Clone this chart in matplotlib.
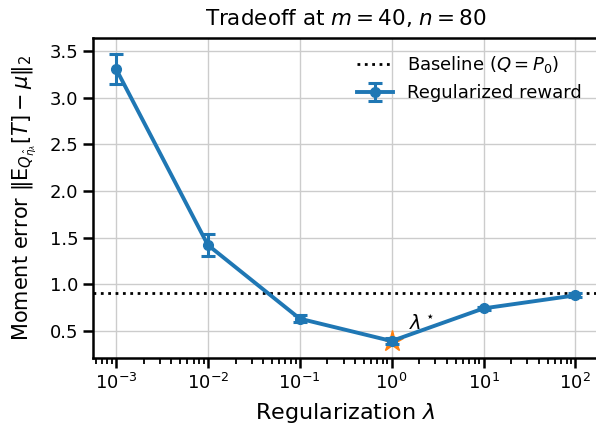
import numpy as np
import matplotlib
matplotlib.use("Agg")
import matplotlib.pyplot as plt

# values
lambdas = [1e-3, 1e-2, 1e-1, 1e0, 1e1, 1e2]
moment_err = [3.31, 1.42, 0.63, 0.39, 0.74, 0.88]
err_bars = [0.16, 0.12, 0.04, 0.03, 0.02, 0.02]
baseline = 0.90
best_lambda = 1e0
best_err = 0.39

plt.rcParams["font.family"] = "DejaVu Sans"
plt.rcParams["mathtext.fontset"] = "dejavusans"

fig = plt.figure(figsize=(5.96, 4.26), dpi=100)
ax = fig.add_axes([0.156, 0.160, 0.848, 0.751])

ax.axhline(baseline, color="black", linestyle=":", linewidth=2,
           label=r"Baseline ($Q = P_0$)", zorder=2)
ax.errorbar(lambdas, moment_err, yerr=err_bars, color="#1f77b4", marker="o",
            markersize=7, linewidth=2.8, capsize=5, capthick=2.2, elinewidth=2.2,
            label="Regularized reward", zorder=3)
ax.plot([best_lambda], [best_err], marker="*", color="#ff7f0e",
        markersize=16, linestyle="none", zorder=2.5)
ax.text(1.55, 0.52, r"$\lambda^\star$", fontsize=14)

ax.set_xscale("log")
ax.set_xlim(10 ** -3.25, 10 ** 2.25)
ax.set_ylim(0.21, 3.64)
ax.set_yticks([0.5, 1.0, 1.5, 2.0, 2.5, 3.0, 3.5])
ax.grid(True, which="major", color="#cccccc", linewidth=1)
ax.set_axisbelow(True)

for s in ax.spines.values():
    s.set_linewidth(1.8)
    s.set_color("black")
ax.tick_params(which="major", length=7, width=1.8, labelsize=13, direction="out")
ax.tick_params(which="minor", length=4, width=1.3, direction="out")

ax.set_title(r"Tradeoff at $m = 40$, $n = 80$", fontsize=15.5, pad=9)
ax.set_xlabel(r"Regularization $\lambda$", fontsize=16, labelpad=6)
ax.set_ylabel(r"Moment error $\|\mathrm{E}_{Q_{\hat{\eta}_\lambda}}[T] - \mu\|_2$",
              fontsize=15, labelpad=8)
ax.legend(loc="upper right", frameon=False, fontsize=13,
          bbox_to_anchor=(1.0, 1.0))

fig.savefig("out.png", dpi=100)
